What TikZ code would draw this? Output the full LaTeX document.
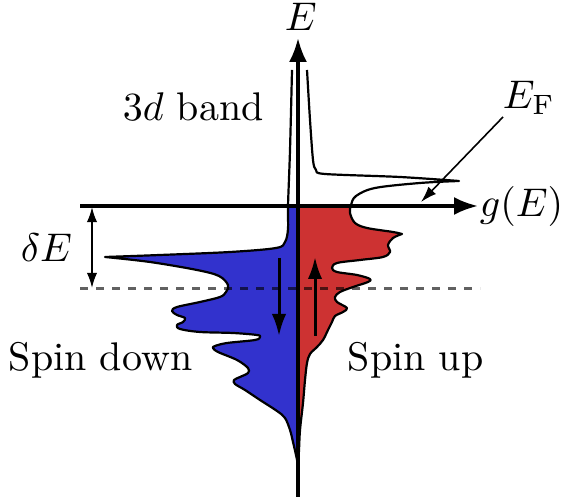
\documentclass[tikz,border=0pt]{standalone}
\usetikzlibrary{arrows.meta}
\definecolor{spinblue}{RGB}{50,50,205}
\definecolor{spinred}{RGB}{205,50,50}
\begin{document}
\begin{tikzpicture}[x=0.25pt,y=-0.25pt,
  curve/.style={line width=0.55pt, line join=round},
  axis/.style={line width=0.85pt, -{Latex[length=6pt,width=4.5pt]}},
  spinarrow/.style={line width=0.75pt, -{Latex[length=5.5pt,width=3.6pt]}},
  dimarrow/.style={line width=0.45pt, {Latex[length=3.8pt,width=2.6pt]}-{Latex[length=3.8pt,width=2.6pt]}},
  pointer/.style={line width=0.4pt, -{Latex[length=4pt,width=2.6pt]}},
  label/.style={inner sep=0pt, anchor=base west},
  fermidash/.style={line width=0.75pt, draw=black, draw opacity=0.62, dash pattern=on 2pt off 2pt}
]
\useasboundingbox (0,0) rectangle (565,499);

% coordinates
\coordinate (Ebot) at (298,497);
\coordinate (Etop) at (298,38);
\coordinate (gl) at (80,206);
\coordinate (gr) at (478,206);
\coordinate (dl) at (80,289);
\coordinate (dr) at (480,289);
\coordinate (dEt) at (92,207);
\coordinate (dEb) at (92,288);
\coordinate (dnA) at (279,258);
\coordinate (dnB) at (279,336);
\coordinate (upA) at (315,336);
\coordinate (upB) at (315,257);
\coordinate (efA) at (503,117);
\coordinate (efB) at (421,202);

\def\bluecurve{plot[smooth,tension=0.55] coordinates {(292,70) (290,150) (288,206) (288,229) (285,242) (276,248) (230,252) (160,255) (105,257)}
  -- plot[smooth,tension=0.55] coordinates {(105,257) (150,262) (197,270) (219,276) (228,285) (226,292) (220,297) (200,302) (177,307) (172,311) (177,315) (185,318) (183,322) (177,325) (180,329) (200,332) (233,333) (257,335) (260,337) (255,340) (227,343) (215,346) (213,348) (218,352) (237,360) (248,368) (248,373) (240,377) (234,380) (235,384) (245,390) (260,400) (277,411) (285,418) (290,430) (293,442) (296,455) (298,465)}}
\def\redcurve{plot[smooth,tension=0.5] coordinates {(307,70) (310,120) (313,160) (316,170) (325,174) (400,177) (459,181)}
  -- plot[smooth,tension=0.55] coordinates {(459,181) (420,183) (375,188) (356,196) (351,205) (350,213) (355,223) (367,228) (393,232) (402,234)}
  -- plot[smooth,tension=0.55] coordinates {(402,234) (393,238) (388,245) (390,252) (383,257) (360,260) (337,263) (332,268) (337,272) (357,275) (370,279) (368,282) (353,287) (340,292) (335,297) (337,302) (347,308) (343,312) (335,316) (332,322) (328,330) (323,340) (317,347) (310,354) (307,363) (305,380) (303,403) (300,430) (299,450) (298,465)}}

% fills
\begin{scope}
  \clip (0,206) rectangle (298,499);
  \fill[spinblue] \bluecurve -- (298,40) -- cycle;
\end{scope}
\begin{scope}
  \clip (298,206) rectangle (565,499);
  \fill[spinred] \redcurve -- (298,40) -- cycle;
\end{scope}

% outlines
\draw[curve] \bluecurve;
\draw[curve] \redcurve;

% Fermi shift line
\draw[fermidash] (dl) -- (dr);

% axes
\draw[axis] (Ebot) -- (Etop);
\draw[axis] (gl) -- (gr);

% spin arrows
\draw[spinarrow] (dnA) -- (dnB);
\draw[spinarrow] (upA) -- (upB);

% delta E
\draw[dimarrow] (dEt) -- (dEb);

% E_F pointer
\draw[pointer] (efA) -- (efB);

% labels
\node[label] (lE) at (284,31) {$E$};
\node[inner sep=0pt, anchor=base east] (lg) at (564,217) {$g(E)$};
\node[label] (lEF) at (502,109) {$E_{\mathrm{F}}$};
\node[label] (ldE) at (20,262) {$\delta E$};
\node[label] (l3d) at (122,121) {$3d$ band};
\node[label] (lsd) at (8,371) {Spin down};
\node[label] (lsu) at (347,371) {Spin up};
\end{tikzpicture}
\end{document}
